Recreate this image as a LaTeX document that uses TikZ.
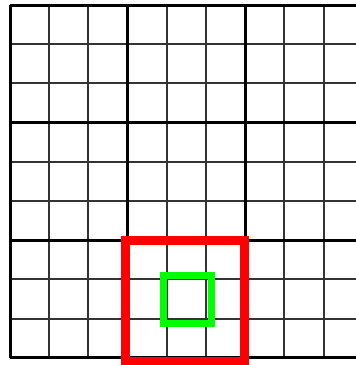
\documentclass[tikz,border=0pt]{standalone}
\usepackage{tikz}
\begin{document}
\begin{tikzpicture}[x=1pt,y=-1pt]
\clip (0,0) rectangle (356,365);
\fill[white] (0,0) rectangle (356,365);
\foreach \i in {0,...,9} {
\draw[color=black!80,line width=2] ({10+\i*39.2},5) -- ({10+\i*39.2},358);
\draw[color=black!80,line width=2] (10,{5+\i*39.2}) -- (362.8,{5+\i*39.2});
}
\foreach \i in {0,3,6,9} {
\draw[color=black,line width=3] ({10+\i*39.2},5) -- ({10+\i*39.2},358);
\draw[color=black,line width=3] (10,{5+\i*39.2}) -- (362.8,{5+\i*39.2});
}
\draw[color=red,line width=9] (125.5,240) rectangle (244.5,361);
\draw[color=green,line width=7] (163,275.5) rectangle (211.5,323);
\end{tikzpicture}
\end{document}
